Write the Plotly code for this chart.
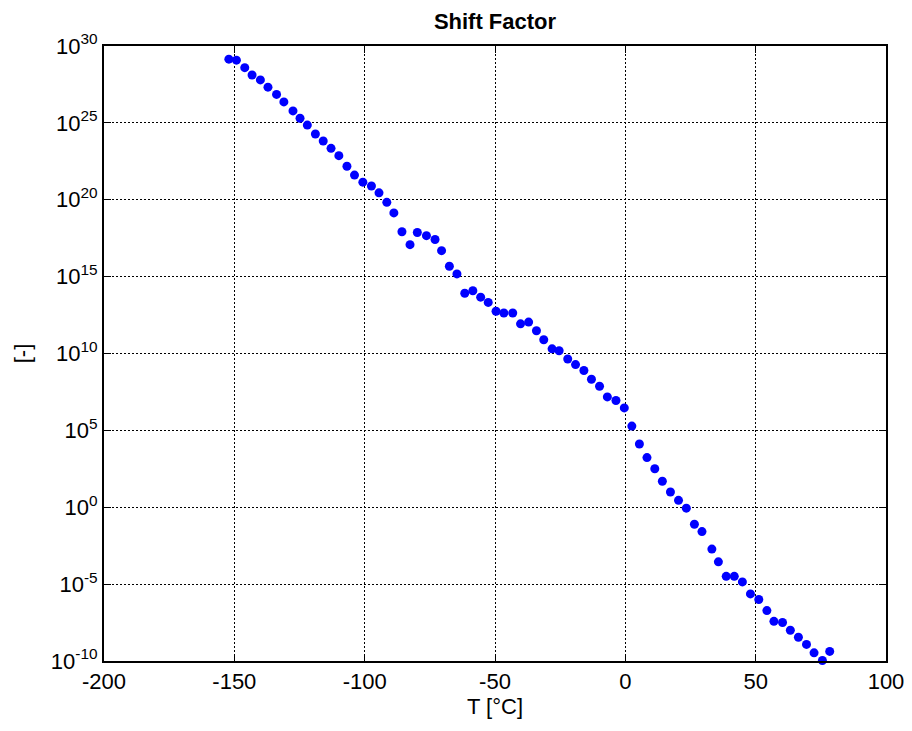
import plotly.graph_objects as go

temperature = [-152.1, -149.2, -146.0, -143.2, -140.0, -137.1, -133.8, -131.0, -127.5, -124.8,
               -122.0, -118.9, -115.9, -112.9, -109.9, -106.8, -103.9, -100.7, -97.4, -94.5,
               -91.5, -88.8, -85.7, -82.6, -79.8, -76.3, -73.0, -70.5, -67.5, -64.6,
               -61.6, -58.5, -55.5, -52.6, -49.6, -46.6, -43.2, -40.2, -37.1, -34.1,
               -31.3, -28.1, -25.4, -22.1, -19.1, -15.9, -13.0, -9.9, -6.9, -3.6,
               -0.4, 2.5, 5.4, 8.3, 11.3, 14.2, 17.3, 20.4, 23.4, 26.5,
               29.4, 33.2, 35.7, 38.7, 41.8, 44.9, 48.0, 51.2, 54.3, 57.0,
               60.3, 63.3, 66.4, 69.5, 72.4, 75.6, 78.4]

shift_factor = [1.4e29, 1.2e29, 3.9e28, 1.3e28, 6.2e27, 2.1e27, 7.1e26, 2.3e26, 6.0e25, 2.0e25,
                7.2e24, 1.9e24, 6.6e23, 2.2e23, 7.4e22, 1.5e22, 4.0e21, 1.4e21, 7.9e20, 2.8e20,
                6.8e19, 1.4e19, 8.3e17, 1.2e17, 7.4e17, 4.6e17, 2.6e17, 4.9e16, 4.7e15, 1.5e15,
                8.3e13, 1.2e14, 4.6e13, 2.1e13, 5.6e12, 4.3e12, 4.3e12, 8.5e11, 1.1e12, 3.0e11,
                7.8e10, 2.0e10, 1.5e10, 4.4e9, 1.9e9, 7.9e8, 2.1e8, 7.4e7, 1.5e7, 8.7e6,
                2.9e6, 1.9e5, 1.3e4, 1.7e3, 3.2e2, 49, 9.8, 2.8, 0.87, 7.9e-2,
                2.6e-2, 1.9e-3, 2.8e-4, 3.2e-5, 3.2e-5, 1.4e-5, 2.3e-6, 1.0e-6, 1.9e-7, 3.8e-8,
                3.2e-8, 1.0e-8, 3.5e-9, 1.2e-9, 3.4e-10, 1.07e-10, 4.2e-10]

x_tick_vals = [-200, -150, -100, -50, 0, 50, 100]
x_tick_text = ["-200", "-150", "-100", "-50", "0", "50", "100"]
y_tick_vals = [1e-10, 1e-5, 1e0, 1e5, 1e10, 1e15, 1e20, 1e25, 1e30]
y_tick_text = ["10<sup>-10</sup>", "10<sup>-5</sup>", "10<sup>0</sup>", "10<sup>5</sup>",
               "10<sup>10</sup>", "10<sup>15</sup>", "10<sup>20</sup>", "10<sup>25</sup>",
               "10<sup>30</sup>"]

fig = go.Figure()
fig.add_trace(go.Scatter(
    x=temperature, y=shift_factor, mode="markers",
    marker=dict(color="#0000ff", size=9, line=dict(width=0)),
    showlegend=False, cliponaxis=False,
))

font_family = "Liberation Sans, Arial, sans-serif"
axis_common = dict(
    showline=True, linecolor="black", linewidth=2, mirror="ticks",
    ticks="inside", ticklen=7, tickcolor="black", tickwidth=1,
    showgrid=True, gridcolor="black", griddash="2px,2px", gridwidth=1,
    zeroline=False, ticklabeloverflow="allow", automargin=False,
    tickfont=dict(family=font_family, size=22, color="black"),
)

W, H = 904, 715
fig.update_layout(
    width=W, height=H,
    margin=dict(l=96, r=26, t=38, b=62),
    paper_bgcolor="white", plot_bgcolor="white",
    font=dict(family=font_family, color="black"),
    title=dict(text="<b>Shift Factor</b>", x=0.5, xanchor="center", xref="paper",
               yref="container", y=1 - 13 / H, yanchor="middle",
               font=dict(size=22, family=font_family, color="black")),
    xaxis=dict(range=[-200, 100], tickvals=x_tick_vals, ticktext=x_tick_text,
               title=dict(text="T [°C]", font=dict(size=22, family=font_family), standoff=2),
               **axis_common),
    yaxis=dict(type="log", range=[-10, 30], tickvals=y_tick_vals, ticktext=y_tick_text,
               title=dict(text="[-]", font=dict(size=22, family=font_family), standoff=14),
               **axis_common),
)

fig.write_html("out.html")
